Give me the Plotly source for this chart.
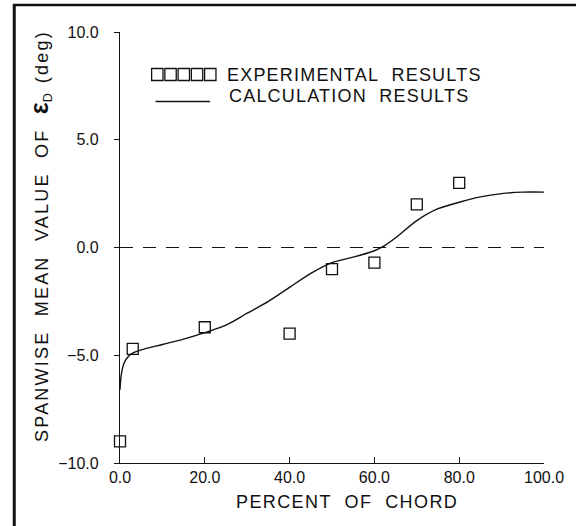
import plotly.graph_objects as go

# ---- data ----
exp_x = [0, 3, 20, 40, 50, 60, 70, 80]
exp_y = [-9.0, -4.7, -3.7, -4.0, -1.0, -0.7, 2.0, 3.0]

calc_x = [0, 0.3, 1, 2, 3, 5, 10, 15, 20, 25, 30, 35, 40, 45, 50, 55, 60,
          62.5, 65, 70, 75, 80, 85, 90, 95, 100]
calc_y = [-6.6, -5.9, -5.35, -5.05, -4.9, -4.75, -4.5, -4.25, -3.95, -3.6,
          -3.05, -2.5, -1.85, -1.2, -0.7, -0.45, -0.15, 0.1, 0.45, 1.25, 1.8,
          2.1, 2.35, 2.5, 2.57, 2.57]

ref_x = [0, 100]
ref_y = [0, 0]

x_ticks = [0, 20, 40, 60, 80, 100]
y_ticks = [-10, -5, 0, 5, 10]

FONT = "Liberation Sans, Arial, sans-serif"
INK = "#111111"

W, H = 576, 526
L, R, T, B = 120, 27, 32, 63
PW, PH = W - L - R, H - T - B


def px(xp):
    return (xp - L) / PW


def py(yp):
    return (H - B - yp) / PH


fig = go.Figure()

fig.add_trace(go.Scatter(x=ref_x, y=ref_y, mode="lines",
                         line=dict(color=INK, width=1.2, dash="13px,10px"),
                         showlegend=False, hoverinfo="skip"))
fig.add_trace(go.Scatter(x=calc_x, y=calc_y, mode="lines",
                         line=dict(color=INK, width=1.4, shape="spline", smoothing=0.8),
                         name="CALCULATION RESULTS", showlegend=False))
fig.add_trace(go.Scatter(x=exp_x, y=exp_y, mode="markers",
                         marker=dict(symbol="square-open", size=11, color=INK,
                                     line=dict(width=1.3, color=INK)),
                         name="EXPERIMENTAL RESULTS", showlegend=False,
                         cliponaxis=False))

shapes = []
# outer frame (left and top edges)
shapes.append(dict(type="line", xref="paper", yref="paper",
                   x0=px(13), x1=px(13), y0=py(4), y1=py(540),
                   line=dict(color=INK, width=3)))
shapes.append(dict(type="line", xref="paper", yref="paper",
                   x0=px(12), x1=px(590), y0=py(5), y1=py(5),
                   line=dict(color=INK, width=2.5)))
# legend samples
for i in range(5):
    x0 = 152 + 13.4 * i
    shapes.append(dict(type="rect", xref="paper", yref="paper",
                       x0=px(x0), x1=px(x0 + 11.5), y0=py(80.5), y1=py(68.5),
                       line=dict(color=INK, width=1.3)))
shapes.append(dict(type="line", xref="paper", yref="paper",
                   x0=px(156), x1=px(211), y0=py(101.5), y1=py(101.5),
                   line=dict(color=INK, width=1.3)))

NB = "\u00a0"
annotations = [
    dict(text='<span style="letter-spacing:1.2px">EXPERIMENTAL' + NB * 2 + 'RESULTS</span>',
         xref="paper", yref="paper", x=px(226), y=py(75), xanchor="left",
         yanchor="middle", showarrow=False, font=dict(family=FONT, size=18, color=INK)),
    dict(text='<span style="letter-spacing:1.2px">CALCULATION' + NB * 2 + 'RESULTS</span>',
         xref="paper", yref="paper", x=px(228), y=py(96), xanchor="left",
         yanchor="middle", showarrow=False, font=dict(family=FONT, size=18, color=INK)),
    dict(text='<span style="letter-spacing:1.4px">PERCENT' + NB * 2 + 'OF' + NB * 2 + 'CHORD</span>',
         xref="paper", yref="paper", x=px(350), y=py(502), xanchor="center",
         yanchor="middle", showarrow=False, font=dict(family=FONT, size=18, color=INK)),
    dict(text='<span style="letter-spacing:2.2px">SPANWISE' + NB * 2 + 'MEAN' + NB * 2 +
              'VALUE' + NB * 2 + 'OF' + NB * 2 + '</span>'
              '<span style="font-weight:bold;font-size:25px">ε</span><sub>D</sub>' + NB * 2 +
              '<span style="letter-spacing:2.2px">(deg)</span>',
         xref="paper", yref="paper", x=px(39), y=py(236), xanchor="center",
         yanchor="middle", textangle=-90, showarrow=False,
         font=dict(family=FONT, size=18, color=INK)),
]

fig.update_layout(
    width=W, height=H,
    margin=dict(l=L, r=R, t=T, b=B, pad=0),
    paper_bgcolor="white", plot_bgcolor="white",
    font=dict(family=FONT, size=16, color=INK),
    shapes=shapes, annotations=annotations,
    showlegend=False,
)
fig.update_xaxes(range=[0, 100], tickvals=x_ticks, tickformat=".1f",
                 showline=True, linecolor=INK, linewidth=1.3, mirror=False,
                 ticks="inside", ticklen=6, tickwidth=1.2, tickcolor=INK,
                 showgrid=False, zeroline=False,
                 tickfont=dict(family=FONT, size=16, color=INK))
fig.update_yaxes(range=[-10, 10], tickvals=y_ticks, tickformat=".1f",
                 showline=True, linecolor=INK, linewidth=1.3, mirror=False,
                 ticks="outside", ticklen=5, tickwidth=1.2, tickcolor=INK,
                 showgrid=False, zeroline=False, ticklabelstandoff=12,
                 tickfont=dict(family=FONT, size=16, color=INK))

fig.write_html("out.html",
               config={"displayModeBar": False},
               post_script="document.body.style.margin='0px';"
                           "document.body.style.overflow='hidden';")
